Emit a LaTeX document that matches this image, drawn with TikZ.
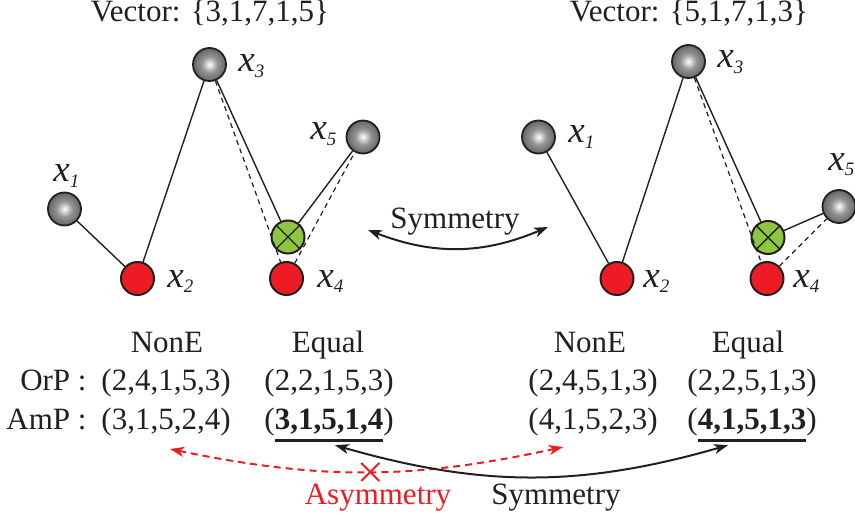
\documentclass[tikz,border=0pt]{standalone}
\usepackage{fontspec}
\setmainfont{Liberation Serif}
\usetikzlibrary{arrows.meta,shapes.misc}
\definecolor{redc}{HTML}{ED1C24}
\definecolor{greenc}{HTML}{8DC63F}
\definecolor{inkc}{HTML}{231F20}
\pgfdeclareradialshading{balshade}{\pgfpoint{0bp}{0bp}}{color(0bp)=(white); color(12bp)=(black!42); color(32bp)=(black!70); color(50bp)=(black!88)}
\newcommand{\xlab}[1]{\textit{x}\raisebox{-2.6pt}{\fontsize{9.5}{10}\selectfont\textit{#1}}}
\newcommand{\thickul}[1]{\vtop{\hbox{#1}\kern2.6pt\hrule height 1.4pt}}

\begin{document}
\begin{tikzpicture}[x=0.5pt, y=-0.5pt, >=Stealth, font=\fontsize{15.5}{18}\selectfont, inkc]
    \tikzset{
        graybal/.style={circle, draw=inkc, line width=0.9pt, minimum size=16.5pt, inner sep=0pt, shade, shading=balshade},
        redbal/.style={circle, draw=inkc, line width=1pt, minimum size=16.5pt, inner sep=0pt, fill=redc},
        greenbal/.style={circle, draw=inkc, line width=1pt, minimum size=16.5pt, inner sep=0pt, fill=greenc},
        xtext/.style={anchor=base west, inner sep=0pt, font=\fontsize{18.5}{20}\selectfont},
        txt/.style={anchor=base, inner sep=0pt},
        link/.style={line width=0.7pt},
        dlink/.style={line width=0.6pt, dash pattern=on 2.5pt off 2pt},
        tips/.style={{Stealth[length=7pt,width=5pt,inset=2pt]}-{Stealth[length=7pt,width=5pt,inset=2pt]}, line width=1pt}
    }
    \useasboundingbox (0,0) rectangle (855,518);

    % Left vector
    \node[txt] (lvec) at (210,22) {Vector: \{3,1,7,1,5\}};
    \node[graybal] (l1) at (64.5,209) {};
    \node[redbal] (l2) at (137.5,278.5) {};
    \node[graybal] (l3) at (209.5,64.5) {};
    \node[greenbal] (lg) at (288,237) {};
    \node[redbal] (l4) at (286.5,278.5) {};
    \node[graybal] (l5) at (363,137) {};
    \draw[link] (lg.north west) -- (lg.south east) (lg.north east) -- (lg.south west);
    \draw[link] (l1) -- (l2) -- (l3) -- (lg) -- (l5);
    \draw[dlink] (l3) -- (l4) -- (l5);
    \node[xtext] (lx1) at (53,182) {\xlab{1}};
    \node[xtext] (lx2) at (167,287) {\xlab{2}};
    \node[xtext] (lx3) at (238,72) {\xlab{3}};
    \node[xtext] (lx4) at (317,287) {\xlab{4}};
    \node[xtext] (lx5) at (310,140) {\xlab{5}};

    % Right vector
    \node[txt] (rvec) at (689,22) {Vector: \{5,1,7,1,3\}};
    \node[graybal] (r1) at (538.5,137) {};
    \node[redbal] (r2) at (617,278.5) {};
    \node[graybal] (r3) at (688.5,61.5) {};
    \node[greenbal] (rg) at (768,237.5) {};
    \node[redbal] (r4) at (767,278.5) {};
    \node[graybal] (r5) at (839,206.5) {};
    \draw[link] (rg.north west) -- (rg.south east) (rg.north east) -- (rg.south west);
    \draw[link] (r1) -- (r2) -- (r3) -- (rg) -- (r5);
    \draw[dlink] (r3) -- (r4) -- (r5);
    \node[xtext] (rx1) at (568,143) {\xlab{1}};
    \node[xtext] (rx2) at (643,287) {\xlab{2}};
    \node[xtext] (rx3) at (717,68) {\xlab{3}};
    \node[xtext] (rx4) at (793,287) {\xlab{4}};
    \node[xtext] (rx5) at (828,170) {\xlab{5}};

    % Symmetry between the vectors
    \node[txt] (msym) at (455,228) {Symmetry};
    \coordinate (msymL) at (368,230);
    \coordinate (msymR) at (548,227);
    \draw[tips] (msymL) to[bend right=22] (msymR);

    % Permutations
    \node[txt] (lnon) at (167,352) {NonE};
    \node[txt] (leq) at (328,352) {Equal};
    \node[txt] (rnon) at (590,352) {NonE};
    \node[txt] (req) at (748,352) {Equal};
    \node[anchor=base east, inner sep=0pt] (orp) at (87,390) {OrP :};
    \node[anchor=base east, inner sep=0pt] (amp) at (87,429) {AmP :};
    \node[txt] (lor1) at (166,390) {(2,4,1,5,3)};
    \node[txt] (lor2) at (329,390) {(2,2,1,5,3)};
    \node[txt] (ror1) at (593,390) {(2,4,5,1,3)};
    \node[txt] (ror2) at (752,390) {(2,2,5,1,3)};
    \node[txt] (lam1) at (166,429) {(3,1,5,2,4)};
    \node[txt] (lam2) at (329,429) {(\thickul{\textbf{3,1,5,1,4}})};
    \node[txt] (ram1) at (593,429) {(4,1,5,2,3)};
    \node[txt] (ram2) at (752,429) {(\thickul{\textbf{4,1,5,1,3}})};

    % Asymmetry and symmetry of the permutations
    \draw[tips, redc, dash pattern=on 3.5pt off 2.5pt] ([xshift=2pt,yshift=-6.5pt]lam1.south) to[bend right=12]
        node[pos=0.51, solid, cross out, draw=redc, line width=1pt, minimum size=8pt, inner sep=0pt] (xmark) {}
        ([xshift=-15pt,yshift=-5.5pt]ram1.south);
    \draw[tips] ([xshift=3pt,yshift=-1.5pt]lam2.south) to[bend right=16] ([xshift=-12pt,yshift=-1.5pt]ram2.south);
    \node[txt, text=redc] (asym) at (378,504) {Asymmetry};
    \node[txt] (bsym) at (556,504) {Symmetry};
\end{tikzpicture}
\end{document}
